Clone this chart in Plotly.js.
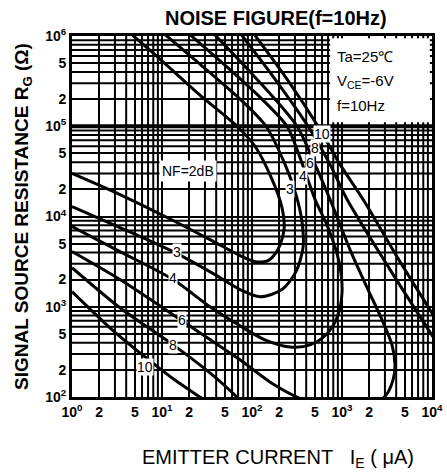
<!DOCTYPE html>
<html>
<head>
<meta charset="utf-8">
<script src="https://cdn.plot.ly/plotly-3.0.1.min.js"></script>
<style>html,body{margin:0;padding:0;background:#fff;}</style>
</head>
<body>
<div id="chart" style="width:447px;height:476px;"></div>
<script>
// Emitter current IE (uA) and source resistance RG (ohm)
const I_NF2 = [1.00, 3.41, 11.4, 34.1, 73.6, 108, 151, 194, 227, 215, 167, 108, 68.1, 26.4, 9.5, 4.41];
const R_NF2 = [3.0e4, 1.75e4, 9.75e3, 5.55e3, 3.69e3, 3.16e3, 3.25e3, 4.3e3, 7.17e3, 1.26e4, 2.58e4, 6.0e4, 1.0e5, 2.21e5, 5.55e5, 1.08e6];

const I_NF3 = [1.00, 3.41, 14.7, 38.8, 73.6, 123, 215, 308, 369, 359, 308, 233, 143, 73.6, 26.4, 10.3];
const R_NF3 = [1.29e4, 7.55e3, 3.88e3, 2.27e3, 1.55e3, 1.29e3, 1.55e3, 2.45e3, 4.52e3, 8.8e3, 1.75e4, 3.78e4, 1.0e5, 2.0e5, 4.88e5, 1.08e6];

const I_NF4 = [1.00, 3.41, 13.3, 34.1, 73.6, 139, 264, 441, 664, 880, 1000, 926, 699, 501, 398, 316, 245, 129, 64.7, 19.5];
const R_NF4 = [7.75e3, 4.08e3, 2.0e3, 1.0e3, 615, 430, 359, 378, 489, 755, 1.43e3, 3.16e3, 7.55e3, 1.55e4, 2.93e4, 5.55e4, 1.0e5, 2.0e5, 3.78e5, 1.08e6];

const I_NF6 = [1.00, 3.41, 16.7, 73.6, 158, 316, 570, 1227, 2328, 3083, 3687, 3881, 3594, 2783, 1944, 1227, 736, 501, 316, 108, 36.9];
const R_NF6 = [4.08e3, 2.0e3, 699, 258, 147, 100, 81.5, 77.4, 85.8, 105, 154, 227, 378, 717, 1.55e3, 4.3e3, 1.55e4, 3.78e4, 1.0e5, 3.5e5, 1.08e6];

const I_NF8_low = [1.00, 3.41, 13.3, 34.1, 68.1, 95];
const R_NF8_low = [2.71e3, 975, 378, 185, 100, 71.7];
const I_NF8_up = [73.6, 180, 419, 736, 1136, 3415, 10800];
const R_NF8_up = [1.08e6, 3.33e5, 1.0e5, 3.78e4, 1.55e4, 2.58e3, 430];

const I_NF10_low = [1.00, 2.64, 6.48, 13.9, 26.4, 38.8];
const R_NF10_low = [1.47e3, 585, 278, 154, 100, 77.4];
const I_NF10_up = [103, 245, 541, 950, 1711, 4408, 10800];
const R_NF10_up = [1.08e6, 3.33e5, 1.0e5, 3.78e4, 1.55e4, 3.16e3, 755];

const xTickVals = [1, 2, 5, 10, 20, 50, 100, 200, 500, 1000, 2000, 5000, 10000];
const xTickText = ['10<sup>0</sup>', '2', '5', '10<sup>1</sup>', '2', '5', '10<sup>2</sup>', '2', '5', '10<sup>3</sup>', '2', '5', '10<sup>4</sup>'];
const xMinorVals = [3, 4, 6, 7, 8, 9, 30, 40, 60, 70, 80, 90, 300, 400, 600, 700, 800, 900, 3000, 4000, 6000, 7000, 8000, 9000];

const yTickVals = [100, 200, 500, 1e3, 2e3, 5e3, 1e4, 2e4, 5e4, 1e5, 2e5, 5e5, 1e6];
const yTickText = ['10<sup>2</sup>', '2', '5', '10<sup>3</sup>', '2', '5', '10<sup>4</sup>', '2', '5', '10<sup>5</sup>', '2', '5', '10<sup>6</sup>'];
const yMinorVals = [300, 400, 600, 700, 800, 900, 3e3, 4e3, 6e3, 7e3, 8e3, 9e3, 3e4, 4e4, 6e4, 7e4, 8e4, 9e4, 3e5, 4e5, 6e5, 7e5, 8e5, 9e5];

// curve labels: [text, IE, RG]
const curveLabels = [
  ['3', 14.7, 4.08e3], ['4', 13.3, 2.1e3], ['6', 16.7, 718], ['8', 13.3, 378], ['10', 6.48, 215],
  ['3', 264, 2.0e4], ['4', 369, 2.78e4], ['6', 441, 3.88e4], ['8', 501, 5.7e4], ['10', 600, 8.15e4]
];

const FONT = 'Liberation Sans, Arial, Helvetica, sans-serif';
const lineStyle = {color: '#000', width: 3, shape: 'spline', smoothing: 0.8};

function tr(x, y) {
  return {x: x, y: y, type: 'scatter', mode: 'lines', line: lineStyle, hoverinfo: 'skip', showlegend: false};
}

const data = [
  tr(I_NF2, R_NF2), tr(I_NF3, R_NF3), tr(I_NF4, R_NF4), tr(I_NF6, R_NF6),
  tr(I_NF8_low, R_NF8_low), tr(I_NF8_up, R_NF8_up),
  tr(I_NF10_low, R_NF10_low), tr(I_NF10_up, R_NF10_up)
];

const annotations = curveLabels.map(function (c) {
  return {
    text: c[0], x: Math.log10(c[1]), y: Math.log10(c[2]), xref: 'x', yref: 'y',
    showarrow: false, bgcolor: '#fff', borderpad: 0,
    font: {family: FONT, size: 14, color: '#000'}
  };
});
annotations.push({
  text: 'NF=2dB', x: Math.log10(19.5), y: Math.log10(3.16e4), xref: 'x', yref: 'y',
  showarrow: false, bgcolor: '#fff', borderpad: 2, font: {family: FONT, size: 14, color: '#000'}
});
const infoLines = ['Ta=25℃', 'V<sub>CE</sub>=-6V', 'f=10Hz'];
const infoY = [0.942, 0.875, 0.808];
infoLines.forEach(function (t, i) {
  annotations.push({
    text: t, x: 0.731, y: infoY[i], xref: 'paper', yref: 'paper', xanchor: 'left', yanchor: 'middle',
    showarrow: false, font: {family: FONT, size: 15, color: '#000'}
  });
});
// x-axis title (placed off-centre as in the reference)
annotations.push({
  text: 'EMITTER CURRENT\u00A0\u00A0\u00A0I<sub>E</sub> ( μA)', x: 0.572, y: -0.169,
  xref: 'paper', yref: 'paper', xanchor: 'center', yanchor: 'middle', showarrow: false,
  font: {family: FONT, size: 20, color: '#000'}
});

// thin grid lines at the intermediate decade digits
const shapes = [];
xMinorVals.forEach(function (v) {
  shapes.push({type: 'line', xref: 'x', yref: 'paper', x0: v, x1: v, y0: 0, y1: 1,
               line: {color: '#000', width: 2}, layer: 'below'});
});
yMinorVals.forEach(function (v) {
  shapes.push({type: 'line', xref: 'paper', yref: 'y', x0: 0, x1: 1, y0: v, y1: v,
               line: {color: '#000', width: 2}, layer: 'below'});
});
shapes.push({type: 'line', xref: 'paper', yref: 'paper', x0: 0, x1: 1, y0: 0.75, y1: 0.75,
             line: {color: '#000', width: 4}, layer: 'above'});
shapes.push({type: 'rect', xref: 'paper', yref: 'paper', x0: 0.717, x1: 0.994, y0: 0.761, y1: 0.994,
             fillcolor: '#fff', line: {width: 0}, layer: 'above'});

const axisCommon = {
  type: 'log', showgrid: true, gridcolor: '#000', gridwidth: 2,
  showline: true, linecolor: '#000', linewidth: 3, mirror: true,
  ticks: '', zeroline: false, fixedrange: true,
  tickfont: {family: FONT, size: 14, color: '#000'}
};

const layout = {
  width: 447, height: 476,
  margin: {l: 72, r: 15, t: 36, b: 79},
  paper_bgcolor: '#fff', plot_bgcolor: '#fff',
  showlegend: false,
  title: {
    text: '<b>NOISE FIGURE(f=10Hz)</b>',
    x: 0.617, xref: 'container', xanchor: 'center',
    y: 0.962, yref: 'container', yanchor: 'middle',
    font: {family: FONT, size: 20, color: '#000'}
  },
  xaxis: Object.assign({}, axisCommon, {
    range: [0, 4], tickmode: 'array', tickvals: xTickVals,
    ticktext: xTickText.map(function (t) { return '<b>' + t + '</b>'; })
  }),
  yaxis: Object.assign({}, axisCommon, {
    range: [2, 6], tickmode: 'array', tickvals: yTickVals,
    ticktext: yTickText.map(function (t) { return '<b>' + t + '</b>'; }),
    title: {text: '<b>SIGNAL SOURCE RESISTANCE R<sub>G</sub> (Ω)</b>', standoff: 12,
            font: {family: FONT, size: 19, color: '#000'}}
  }),
  shapes: shapes,
  annotations: annotations
};

Plotly.newPlot('chart', data, layout, {displayModeBar: false, staticPlot: true});
</script>
</body>
</html>
